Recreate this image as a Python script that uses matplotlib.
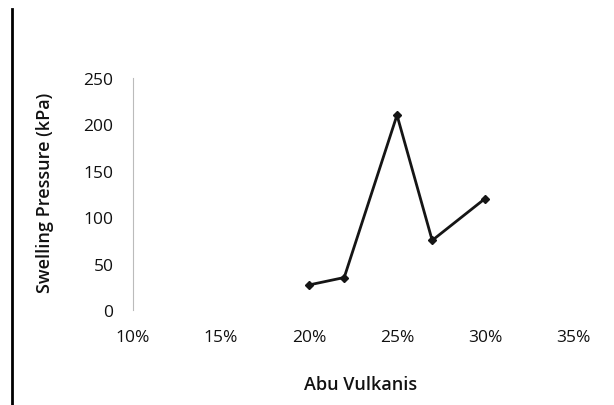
import matplotlib
matplotlib.use("Agg")
import matplotlib.pyplot as plt
from matplotlib.lines import Line2D

x_pct = [20, 22, 25, 27, 30]
pressure = [27, 35, 210, 75, 120]
x_ticks = [10, 15, 20, 25, 30, 35]
x_ticklabels = ["10%", "15%", "20%", "25%", "30%", "35%"]
y_ticks = [0, 50, 100, 150, 200, 250]

plt.rcParams['font.family'] = ['Open Sans', 'DejaVu Sans']

fig = plt.figure(figsize=(6.14, 4.06), dpi=100)
ax = fig.add_axes([133/614, 1-311/406, (573-133)/614, (311-79)/406])

ax.plot(x_pct, pressure, color='#151515', lw=2.0, marker='D', ms=4.5)

ax.set_xlim(10, 35)
ax.set_ylim(0, 250)
ax.set_xticks(x_ticks)
ax.set_xticklabels(x_ticklabels)
ax.set_yticks(y_ticks)
for s in ['top', 'right', 'bottom']:
    ax.spines[s].set_visible(False)
ax.spines['left'].set_color('#bbbbbb')
ax.spines['left'].set_linewidth(0.8)
ax.tick_params(axis='both', length=0, labelsize=12.5, colors='#111111')
ax.tick_params(axis='y', pad=14)
ax.tick_params(axis='x', pad=14)

ax.set_xlabel('Abu Vulkanis', fontsize=13, fontweight='semibold', color='#111111')
ax.set_ylabel('Swelling Pressure (kPa)', fontsize=13, fontweight='semibold', color='#111111')
ax.xaxis.set_label_coords(0.518, -0.28)
ax.yaxis.set_label_coords(-0.18, 0.51)

fig.add_artist(Line2D([12/614, 12/614], [0, 1-10/406], transform=fig.transFigure, color='black', lw=2))

fig.savefig('out.png', dpi=100, facecolor='white')
